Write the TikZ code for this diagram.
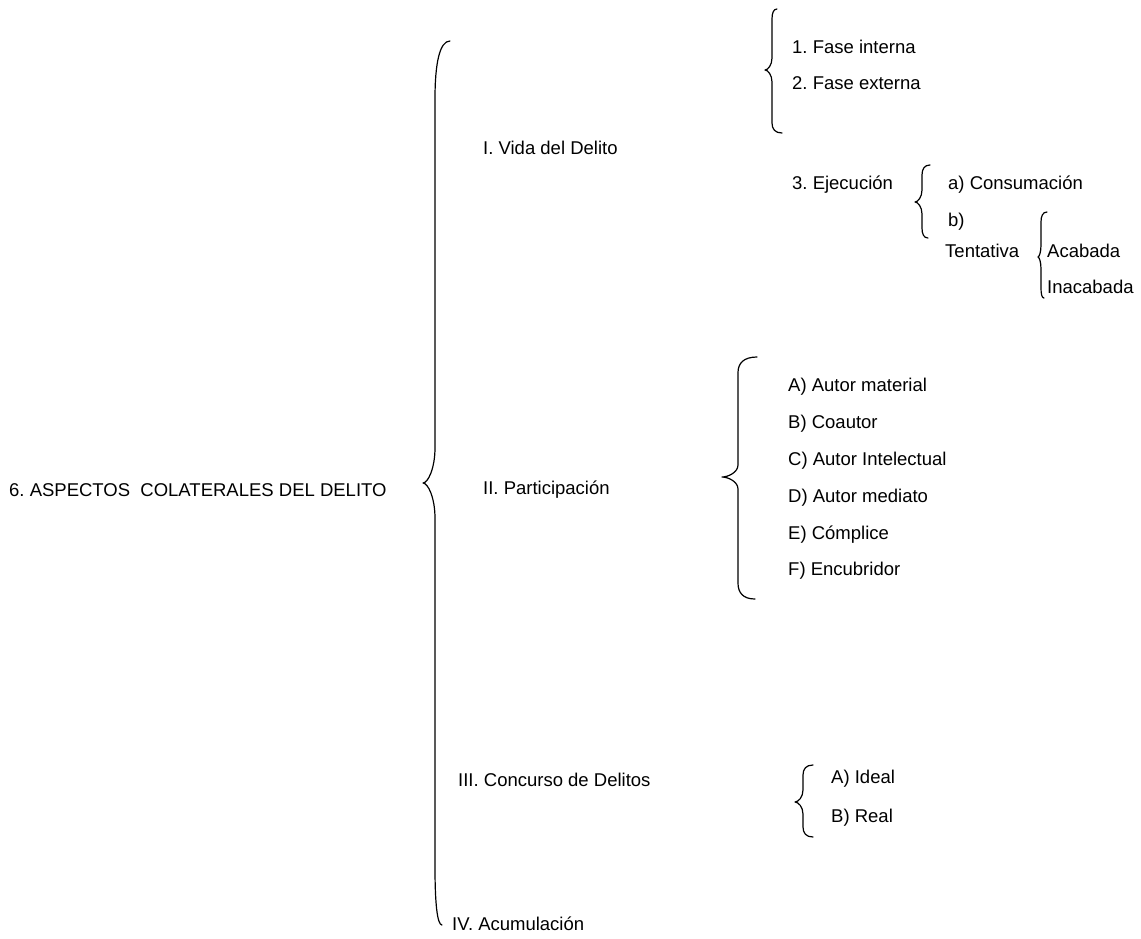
\documentclass[tikz,border=0pt]{standalone}
\usepackage{fontspec}
\setmainfont{Liberation Sans}
\usetikzlibrary{positioning}
\frenchspacing

\tikzset{
  item/.style={anchor=west, inner sep=0pt, font=\fontsize{18.5}{22}\selectfont},
  llave/.style={line width=1.2pt, line cap=round, line join=round},
}

% curly brace: #1 bar x, (#2,#3) top end, (#4,#5) tip, (#6,#7) bottom end
\newcommand{\clave}[7]{%
  \pgfmathsetmacro{\upA}{max(10,0.13*(#5-#3))}
  \pgfmathsetmacro{\tpA}{max(12,0.08*(#5-#3))}
  \pgfmathsetmacro{\upB}{max(10,0.13*(#7-#5))}
  \pgfmathsetmacro{\tpB}{max(12,0.08*(#7-#5))}
  \draw[llave] (#2,#3) .. controls ({#1+0.3*(#2-#1)},#3) and (#1,{#3+0.4*\upA}) .. (#1,{#3+\upA})
    -- (#1,{#5-\tpA}) .. controls (#1,{#5-0.4*\tpA}) and ({#4+0.4*(#1-#4)},#5) .. (#4,#5)
    .. controls ({#4+0.4*(#1-#4)},#5) and (#1,{#5+0.4*\tpB}) .. (#1,{#5+\tpB})
    -- (#1,{#7-\upB}) .. controls (#1,{#7-0.4*\upB}) and ({#1+0.3*(#6-#1)},#7) .. (#6,#7);
}

\begin{document}
\begin{tikzpicture}[x=1pt,y=-1pt]
    \useasboundingbox (0,0) rectangle (1141,938);

    % Main heading
    \node[item] (aspectos) at (9,490) {6. ASPECTOS\ \ COLATERALES DEL DELITO};
    \clave{435}{450}{41}{423}{483}{442}{925}

    % Second level
    \node[item] (vida) at (483,148) {I. Vida del Delito};
    \node[item] (part) at (483,490) {II. Participación};
    \node[item] (concurso) at (458,780) {III. Concurso de Delitos};
    \node[item] (acum) at (452,924) {IV. Acumulación};

    % Vida del Delito
    \clave{772}{777}{9}{765}{70}{782}{133}
    \node[item] (fint) at (792,47) {1. Fase interna};
    \node[item] (fext) at (792,83) {2. Fase externa};
    \node[item] (ejec) at (792,185) {3. Ejecución};
    \clave{922}{930}{165}{915}{202}{928}{238}
    \node[item] (cons) at (948,185) {a) Consumación};
    \node[item] (bb) at (948,222) {b)};
    \node[item] (tent) at (945,251) {Tentativa};
    \clave{1041}{1047}{212}{1038}{257}{1044}{298}
    \node[item] (acab) at (1047,251) {Acabada};
    \node[item] (inac) at (1047,287) {Inacabada};

    % Participacion
    \clave{738}{757}{357}{722}{477}{755}{599}
    \foreach \txt [count=\i from 0] in {A) Autor material, B) Coautor,
        C) Autor Intelectual, D) Autor mediato, E) Cómplice, F) Encubridor}
        \node[item] (autor\i) at (788,{387+36.8*\i}) {\txt};

    % Concurso de Delitos
    \clave{803}{813}{765}{795}{802}{813}{837}
    \node[item] (ideal) at (831,779) {A) Ideal};
    \node[item] (real) at (831,818) {B) Real};

\end{tikzpicture}
\end{document}
